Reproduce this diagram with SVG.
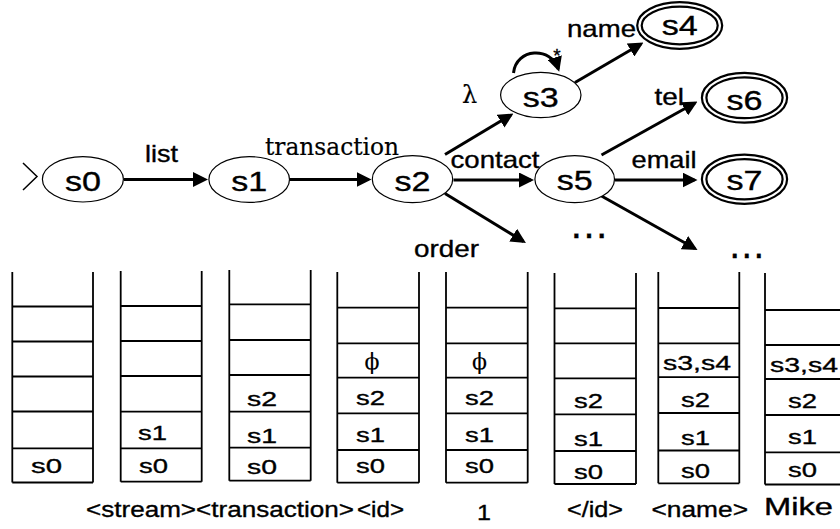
<svg xmlns="http://www.w3.org/2000/svg" width="840" height="529" viewBox="0 0 840 529">
  <style>
    text { font-family: "Liberation Sans", Arial, sans-serif; fill: #000; stroke: #000; stroke-width: 0.35; }
    .nl { font-size: 27px; text-anchor: middle; }
    .el { font-size: 24px; }
    .cl { font-size: 21px; }
    .bl { font-size: 22px; }
    .node { fill: #fff; stroke: #000; stroke-width: 1.2; }
    .acc { fill: none; stroke: #000; stroke-width: 2.2; }
    .edge { fill: none; stroke: #000; stroke-width: 3; marker-end: url(#ah); }
    .stk { fill: none; stroke: #000; stroke-width: 1.8; }
  </style>
  <defs>
    <marker id="ah" viewBox="0 0 15 15" refX="12" refY="7.5" markerWidth="15" markerHeight="15" markerUnits="userSpaceOnUse" orient="auto">
      <path d="M0,0 L15,7.5 L0,15 z" fill="#000"/>
    </marker>
  </defs>

  <rect width="840" height="529" fill="#fff"/>

  <!-- transitions of the automaton -->
  <g id="connectors">
    <polyline points="23,163 37,176.5 23,190" fill="none" stroke="#000" stroke-width="1.5"/>
    <path class="edge" d="M124,179.5 L205,179.5"/>
    <path class="edge" d="M290,179.5 L368.5,179.5"/>
    <path class="edge" d="M445,154.5 L510.9,115"/>
    <path class="edge" d="M453.5,180 L531,180"/>
    <path class="edge" d="M445,193.5 L523.4,241.4"/>
    <path class="edge" d="M513.5,73 C516,48 551,46 558.3,69"/>
    <path class="edge" d="M575,82.5 L640.9,44"/>
    <path class="edge" d="M601.5,155 L694.9,103"/>
    <path class="edge" d="M615,180 L694.5,180"/>
    <path class="edge" d="M601.5,196 L694.9,248.5"/>
  </g>

  <!-- transition labels -->
  <g id="edge-labels">
    <text class="el" x="145" y="162.3" textLength="33" lengthAdjust="spacingAndGlyphs">list</text>
    <text x="265" y="155" textLength="134" lengthAdjust="spacingAndGlyphs" style="font-family:'DejaVu Serif','Liberation Serif',serif;font-size:24px;stroke-width:0.2">transaction</text>
    <text x="469.7" y="103" text-anchor="middle" style="font-family:'DejaVu Serif','Liberation Serif',serif;font-size:24px;stroke-width:0.2">λ</text>
    <text x="557" y="62" font-size="19" text-anchor="middle">*</text>
    <text class="el" x="450.5" y="168.3" textLength="89" lengthAdjust="spacingAndGlyphs">contact</text>
    <text class="el" x="414" y="256.7" textLength="65" lengthAdjust="spacingAndGlyphs">order</text>
    <text class="el" x="567" y="36.7" textLength="69" lengthAdjust="spacingAndGlyphs">name</text>
    <text class="el" x="654.5" y="105" textLength="29.5" lengthAdjust="spacingAndGlyphs">tel</text>
    <text class="el" x="631.5" y="168.3" textLength="65" lengthAdjust="spacingAndGlyphs">email</text>
    <text x="589" y="238.3" font-size="40" text-anchor="middle">…</text>
    <text x="746.7" y="258.3" font-size="38" text-anchor="middle">…</text>
  </g>

  <!-- states -->
  <g id="s0">
    <ellipse class="node" cx="82.9" cy="179.3" rx="40.5" ry="22.7"/>
    <text class="nl" x="82.9" y="191" textLength="36" lengthAdjust="spacingAndGlyphs">s0</text>
  </g>
  <g id="s1">
    <ellipse class="node" cx="249.2" cy="179.5" rx="40.3" ry="22.9"/>
    <text class="nl" x="249.2" y="191" textLength="36" lengthAdjust="spacingAndGlyphs">s1</text>
  </g>
  <g id="s2">
    <ellipse class="node" cx="412.5" cy="179.2" rx="40.2" ry="23.5"/>
    <text class="nl" x="412.5" y="190.7" textLength="36" lengthAdjust="spacingAndGlyphs">s2</text>
  </g>
  <g id="s3">
    <ellipse class="node" cx="540.8" cy="95" rx="40.2" ry="22.7"/>
    <text class="nl" x="540.8" y="107.3" textLength="36" lengthAdjust="spacingAndGlyphs">s3</text>
  </g>
  <g id="s4">
    <ellipse class="acc" cx="679.7" cy="25.5" rx="42.5" ry="23.3"/>
    <ellipse class="acc" cx="679.7" cy="25.5" rx="38" ry="18.8"/>
    <text class="nl" x="679.7" y="35" textLength="36" lengthAdjust="spacingAndGlyphs">s4</text>
  </g>
  <g id="s5">
    <ellipse class="node" cx="574.7" cy="179.2" rx="39.8" ry="23.5"/>
    <text class="nl" x="574.7" y="190" textLength="36" lengthAdjust="spacingAndGlyphs">s5</text>
  </g>
  <g id="s6">
    <ellipse class="acc" cx="744.5" cy="97.8" rx="42.6" ry="24.9"/>
    <ellipse class="acc" cx="744.5" cy="97.8" rx="38.1" ry="20.4"/>
    <text class="nl" x="744.5" y="110" textLength="36" lengthAdjust="spacingAndGlyphs">s6</text>
  </g>
  <g id="s7">
    <ellipse class="acc" cx="744.5" cy="179.2" rx="42.6" ry="24.6"/>
    <ellipse class="acc" cx="744.5" cy="179.2" rx="38.1" ry="20.1"/>
    <text class="nl" x="744.5" y="190" textLength="36" lengthAdjust="spacingAndGlyphs">s7</text>
  </g>

  <!-- run-time stacks, one per input token -->
  <g id="stack1">
    <path class="stk" d="M12.3,272 V482.5 M93,272 V482.5 M12.3,306.5 H93 M12.3,341.5 H93 M12.3,376.5 H93 M12.3,411.5 H93 M12.3,448.3 H93 M12.3,482.5 H93"/>
    <text class="cl" x="31" y="473" textLength="31" lengthAdjust="spacingAndGlyphs">s0</text>
  </g>
  <g id="stack2">
    <path class="stk" d="M120.7,271 V481.7 M201.7,271 V481.7 M120.7,306 H201.7 M120.7,341 H201.7 M120.7,376 H201.7 M120.7,411.7 H201.7 M120.7,448.3 H201.7 M120.7,481.7 H201.7"/>
    <text class="cl" x="138" y="440" textLength="29" lengthAdjust="spacingAndGlyphs">s1</text>
    <text class="cl" x="139" y="473" textLength="29" lengthAdjust="spacingAndGlyphs">s0</text>
  </g>
  <g id="stack3">
    <path class="stk" d="M229.3,270 V480.7 M310.7,270 V480.7 M229.3,304.3 H310.7 M229.3,340 H310.7 M229.3,375 H310.7 M229.3,411.7 H310.7 M229.3,447.7 H310.7 M229.3,480.7 H310.7"/>
    <text class="cl" x="247" y="406" textLength="30" lengthAdjust="spacingAndGlyphs">s2</text>
    <text class="cl" x="247" y="442.5" textLength="30" lengthAdjust="spacingAndGlyphs">s1</text>
    <text class="cl" x="247" y="473.5" textLength="30" lengthAdjust="spacingAndGlyphs">s0</text>
  </g>
  <g id="stack4">
    <path class="stk" d="M337.3,272 V482.7 M419,272 V482.7 M337.3,307.7 H419 M337.3,343.3 H419 M337.3,377.7 H419 M337.3,413.3 H419 M337.3,450 H419 M337.3,482.7 H419"/>
    <text x="372" y="369" text-anchor="middle" style="font-family:'DejaVu Serif','Liberation Serif',serif;font-size:22px;stroke-width:0.1">ϕ</text>
    <text class="cl" x="356" y="405" textLength="29" lengthAdjust="spacingAndGlyphs">s2</text>
    <text class="cl" x="356" y="441.7" textLength="29" lengthAdjust="spacingAndGlyphs">s1</text>
    <text class="cl" x="356" y="473.3" textLength="29" lengthAdjust="spacingAndGlyphs">s0</text>
  </g>
  <g id="stack5">
    <path class="stk" d="M446,272 V482.7 M527.7,272 V482.7 M446,307.7 H527.7 M446,343.3 H527.7 M446,377.7 H527.7 M446,413.3 H527.7 M446,450 H527.7 M446,482.7 H527.7"/>
    <text x="479.5" y="369" text-anchor="middle" style="font-family:'DejaVu Serif','Liberation Serif',serif;font-size:22px;stroke-width:0.1">ϕ</text>
    <text class="cl" x="465" y="405" textLength="29" lengthAdjust="spacingAndGlyphs">s2</text>
    <text class="cl" x="465" y="441.7" textLength="29" lengthAdjust="spacingAndGlyphs">s1</text>
    <text class="cl" x="465" y="473.3" textLength="29" lengthAdjust="spacingAndGlyphs">s0</text>
  </g>
  <g id="stack6">
    <path class="stk" d="M554.5,273 V484 M636,273 V484 M554.5,308.3 H636 M554.5,343.3 H636 M554.5,378.3 H636 M554.5,414.3 H636 M554.5,451 H636 M554.5,484 H636"/>
    <text class="cl" x="574" y="408.3" textLength="29" lengthAdjust="spacingAndGlyphs">s2</text>
    <text class="cl" x="574" y="445.7" textLength="29" lengthAdjust="spacingAndGlyphs">s1</text>
    <text class="cl" x="574" y="478.5" textLength="29" lengthAdjust="spacingAndGlyphs">s0</text>
  </g>
  <g id="stack7">
    <path class="stk" d="M658.3,272 V483.3 M739.3,272 V483.3 M658.3,308 H739.3 M658.3,343.3 H739.3 M658.3,377.2 H739.3 M658.3,413 H739.3 M658.3,450.5 H739.3 M658.3,483.3 H739.3"/>
    <text class="cl" x="663" y="370" textLength="68" lengthAdjust="spacingAndGlyphs">s3,s4</text>
    <text class="cl" x="681" y="407" textLength="29" lengthAdjust="spacingAndGlyphs">s2</text>
    <text class="cl" x="681" y="445" textLength="29" lengthAdjust="spacingAndGlyphs">s1</text>
    <text class="cl" x="681" y="478" textLength="29" lengthAdjust="spacingAndGlyphs">s0</text>
  </g>
  <g id="stack8">
    <path class="stk" d="M765,273 V484.5 M765,310 H845 M765,345 H845 M765,379 H845 M765,415 H845 M765,452.3 H845 M765,484.5 H845"/>
    <text class="cl" x="770" y="371.7" textLength="68" lengthAdjust="spacingAndGlyphs">s3,s4</text>
    <text class="cl" x="788" y="408.3" textLength="29" lengthAdjust="spacingAndGlyphs">s2</text>
    <text class="cl" x="788" y="444" textLength="29" lengthAdjust="spacingAndGlyphs">s1</text>
    <text class="cl" x="788" y="477" textLength="29" lengthAdjust="spacingAndGlyphs">s0</text>
  </g>

  <!-- input tokens under the stacks -->
  <g id="tokens">
    <text class="bl" x="86" y="517.3" textLength="268" lengthAdjust="spacingAndGlyphs">&lt;stream&gt;&lt;transaction&gt;</text>
    <text class="bl" x="357" y="517.3" textLength="47" lengthAdjust="spacingAndGlyphs">&lt;id&gt;</text>
    <text class="bl" x="484" y="520" text-anchor="middle" textLength="14" lengthAdjust="spacingAndGlyphs">1</text>
    <text class="bl" x="567" y="517.3" textLength="56" lengthAdjust="spacingAndGlyphs">&lt;/id&gt;</text>
    <text class="bl" x="651.5" y="517.3" textLength="96.5" lengthAdjust="spacingAndGlyphs">&lt;name&gt;</text>
    <text x="764" y="515" textLength="69" lengthAdjust="spacingAndGlyphs" style="font-size:23px">Mike</text>
  </g>
</svg>
